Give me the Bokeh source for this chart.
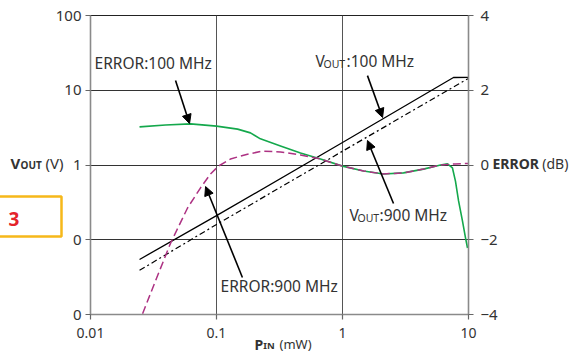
from bokeh.plotting import figure
from bokeh.models import (Range1d, LinearAxis, LinearScale, FixedTicker, Label,
                          Arrow, NormalHead)
from bokeh.core.properties import value
from bokeh.embed import file_html
from bokeh.resources import INLINE

# ---------------- data ----------------
x_ticks = [0.01, 0.1, 1, 10]
x_tick_labels = ["0.01", "0.1", "1", "10"]
v_ticks = [0.01, 0.1, 1, 10, 100]
v_tick_labels = ["0", "0", "1", "10", "100"]
err_ticks = [-4, -2, 0, 2, 4]
err_tick_labels = ["\u22124", "\u22122", "0", "2", "4"]

# VOUT (V) vs PIN (mW)
vout100_p = [0.0245, 0.1, 1.0, 7.6, 10.0]
vout100_v = [0.0545, 0.21, 2.0, 14.8, 14.9]
vout900_p = [0.0245, 0.1, 1.0, 10.0]
vout900_v = [0.039, 0.16, 1.53, 14.4]

# ERROR (dB) vs PIN (mW)
err100_p = [0.0245, 0.0394, 0.0622, 0.1, 0.147, 0.186, 0.223, 0.322, 0.464,
            0.669, 1.0, 1.47, 2.11, 3.05, 4.39, 6.0, 6.81, 7.46, 7.88, 8.34,
            8.96, 9.47, 9.82]
err100_db = [1.02, 1.07, 1.10, 1.04, 0.96, 0.86, 0.70, 0.51, 0.32,
             0.16, -0.03, -0.16, -0.24, -0.21, -0.11, 0.0, 0.03, -0.08, -0.43,
             -0.96, -1.50, -1.95, -2.22]
err900_p = [0.0259, 0.0328, 0.0432, 0.0589, 0.0747, 0.0896, 0.1037, 0.129,
            0.176, 0.232, 0.322, 0.464, 0.669, 1.0, 1.47, 2.11, 3.05, 4.39,
            6.0, 7.88, 10.0]
err900_db = [-3.98, -3.10, -2.09, -1.15, -0.61, -0.24, -0.03, 0.16,
             0.29, 0.37, 0.35, 0.27, 0.16, -0.03, -0.16, -0.24, -0.21, -0.11,
             0.0, 0.03, 0.04]

FONT = "Noto Sans"
TXT = "#333333"
GREEN = "#14a84c"
MAGENTA = "#ad3283"
W, H = 571, 353

fig = figure(width=W, height=H, x_axis_type="log", y_axis_type="log",
             x_range=Range1d(0.01, 10), y_range=Range1d(0.01, 100),
             output_backend="svg", toolbar_location=None,
             min_border_left=90, min_border_right=103,
             min_border_top=15, min_border_bottom=39)
fig.extra_y_ranges = {"err": Range1d(-4, 4)}
fig.extra_y_scales = {"err": LinearScale()}
fig.background_fill_color = "white"
fig.border_fill_color = "white"
fig.outline_line_color = "#222222"
fig.outline_line_width = 1

xt = FixedTicker(ticks=x_ticks)
yt = FixedTicker(ticks=v_ticks)
fig.xaxis.ticker = xt
fig.yaxis.ticker = yt
fig.xgrid.ticker = xt
fig.ygrid.ticker = yt
fig.xaxis.major_label_overrides = dict(zip(x_ticks, x_tick_labels))
fig.yaxis.major_label_overrides = dict(zip(v_ticks, v_tick_labels))

ra = LinearAxis(y_range_name="err", ticker=FixedTicker(ticks=err_ticks),
                major_label_overrides=dict(zip(err_ticks, err_tick_labels)))
fig.add_layout(ra, "right")

for ax in (fig.xaxis[0], fig.yaxis[0], ra):
    ax.axis_line_color = "#8a8a8a"
    ax.axis_line_width = 1.6
    ax.major_tick_line_color = "#666666"
    ax.major_tick_line_width = 1.2
    ax.major_tick_out = 5
    ax.major_tick_in = 0
    ax.minor_tick_line_color = None
    ax.major_label_text_font = FONT
    ax.major_label_text_font_size = "15px"
    ax.major_label_text_color = TXT
    ax.major_label_standoff = 4
fig.xaxis.major_label_text_font_size = "14px"
fig.xaxis.major_label_standoff = 8
ra.major_label_standoff = 7

fig.xgrid.grid_line_color = "#555555"
fig.xgrid.grid_line_width = 1
fig.ygrid.grid_line_color = "#333333"
fig.ygrid.grid_line_width = 1

# ---------------- curves ----------------
fig.line(vout100_p, vout100_v, line_color="black", line_width=1.3)
fig.line(vout900_p, vout900_v, line_color="black", line_width=1.2,
         line_dash="6 3 2 3")
fig.line(err100_p, err100_db, y_range_name="err", line_color=GREEN,
         line_width=1.6)
fig.line(err900_p, err900_db, y_range_name="err", line_color=MAGENTA,
         line_width=1.5, line_dash="8 4")


# in-plot annotations (data units)
def txt(text, x, y, size, bold=False, color=TXT, align="left"):
    fig.add_layout(Label(x=x, y=y, text=text, text_font=FONT,
                         text_font_size=f"{size}px",
                         text_font_style="bold" if bold else "normal",
                         text_color=color, text_align=align,
                         text_baseline="alphabetic"))


txt("ERROR:100 MHz", 0.01076, 22.80, 15.5)
txt("V", 0.611, 24.62, 15.5)
txt("OUT", 0.706, 22.38, 10.5)
txt(":100 MHz", 1.076, 24.62, 15.5)
txt("V", 1.137, 0.2144, 15.5)
txt("OUT", 1.315, 0.1949, 10.5)
txt(":900 MHz", 1.967, 0.2144, 15.5)
txt("ERROR:900 MHz", 0.1076, 0.02406, 15.5)

arrows = [
    (0.0473, 13.5, 0.0611, 3.59),     # ERROR:100 MHz
    (1.578, 15.7, 2.08, 4.32),        # VOUT:100 MHz
    (2.54, 0.305, 1.578, 2.13),       # VOUT:900 MHz
    (0.1606, 0.0313, 0.0819, 0.515),  # ERROR:900 MHz
]
for xs, ys, xe, ye in arrows:
    fig.add_layout(Arrow(x_start=xs, y_start=ys, x_end=xe, y_end=ye,
                         line_color="black", line_width=1.6,
                         end=NormalHead(size=9, fill_color="black",
                                        line_color="black", line_width=1)))


# texts outside the frame: text glyphs at overlay level (not frame-clipped)
def otxt(text, x, y, size, bold=False, color=TXT, align="left"):
    fig.text(x=[x], y=[y], text=[text], text_font=value(FONT),
             text_font_size=value(f"{size}px"),
             text_font_style="bold" if bold else "normal",
             text_color=color, text_align=align,
             text_baseline="alphabetic", level="overlay")


otxt("V", 0.002318, 1.0735, 15, bold=True)
otxt("OUT", 0.002782, 0.9908, 10, bold=True)
otxt("(V)", 0.004394, 1.0735, 15)
otxt("ERROR", 15.50, 1.0603, 14, bold=True)
otxt("(dB)", 38.5, 1.0603, 14)
otxt("P", 0.2002, 0.004030, 14, bold=True)
otxt("IN", 0.2350, 0.003790, 9.5, bold=True)
otxt("(mW)", 0.3162, 0.004030, 13)

# figure-number box
fig.quad(left=[0.001762], right=[0.005886], top=[0.3790], bottom=[0.1105],
         fill_color=None, line_color="#f6b81a", line_width=2.5,
         level="overlay")
otxt("3", 0.002471, 0.1866, 19, bold=True, color="#e4232b", align="center")

p = fig
open("out.html", "w").write(file_html(p, INLINE))
